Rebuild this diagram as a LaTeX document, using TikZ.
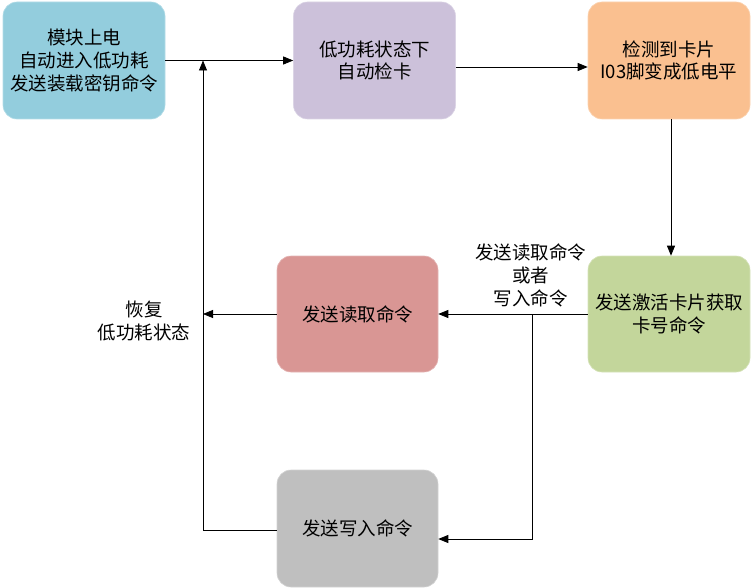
\documentclass[tikz,border=0pt]{standalone}
\usepackage{fontspec}
\setmainfont{Noto Sans CJK SC}
\usetikzlibrary{arrows.meta}
\definecolor{cblue}{HTML}{93CDDD}
\definecolor{cpurple}{HTML}{CCC1DA}
\definecolor{corange}{HTML}{FAC090}
\definecolor{cgreen}{HTML}{C3D69B}
\definecolor{cred}{HTML}{D99694}
\definecolor{cgray}{HTML}{BFBFBF}
\tikzset{
  box/.style={rectangle, rounded corners=14pt, minimum width=162pt, minimum height=117pt,
    align=center, font=\fontsize{18.5pt}{22.8pt}\selectfont, inner sep=0pt, line width=0.6pt},
  lbl/.style={align=center, font=\fontsize{18.5pt}{22.8pt}\selectfont, inner sep=0pt},
  arr/.style={-{Triangle[length=10pt,width=8pt]}, line width=0.8pt},
  ln/.style={line width=0.8pt}
}
\begin{document}
\begin{tikzpicture}[x=1pt,y=-1pt]
\useasboundingbox (0,0) rectangle (754,588);
\node[box, fill=cblue, draw=cblue!70!white] (b1) at (84,60.5) {模块上电\\自动进入低功耗\\发送装载密钥命令};
\node[box, fill=cpurple, draw=cpurple!70!white] (b2) at (374.5,60.5) {低功耗状态下\\自动检卡};
\node[box, fill=corange, draw=corange!70!white] (b3) at (669,60.5) {检测到卡片\\I03脚变成低电平};
\node[box, fill=cgreen, draw=cgreen!70!white, minimum height=116pt] (g) at (669,314) {发送激活卡片获取\\卡号命令};
\node[box, fill=cred, draw=cred!70!white, minimum width=161pt, minimum height=116pt] (r) at (357.5,314) {发送读取命令};
\node[box, fill=cgray, draw=cgray!70!white, minimum width=161pt] (gr) at (357.5,528.5) {发送写入命令};
\node[lbl] (l1) at (144,321) {恢复\\低功耗状态};
\node[lbl] (l2) at (530.5,275.5) {发送读取命令\\或者\\写入命令};
\coordinate (j) at (532,314);
\coordinate (L) at (203,314);
\coordinate (T) at (203,60.5);
\draw[arr] (b1) -- (b2);
\draw[arr] ([yshift=-6.5pt]b2.east) -- ([yshift=-6.5pt]b3.west);
\draw[arr] ([xshift=2pt]b3.south) -- ([xshift=2pt]g.north);
\draw[arr] (g) -- (r);
\draw[arr] (j) |- ([yshift=-10.5pt]gr.east);
\draw[arr] (r) -- (L);
\draw[arr] ([yshift=-1.5pt]gr.west) -| (T);
\end{tikzpicture}
\end{document}
